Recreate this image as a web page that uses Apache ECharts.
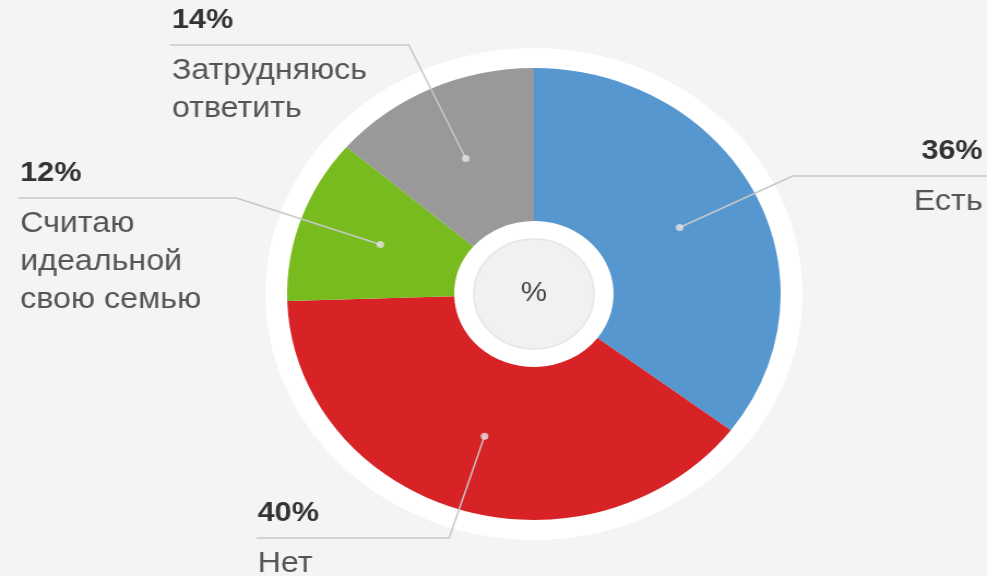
<!DOCTYPE html>
<html>
<head>
<meta charset="utf-8">
<script src="https://cdn.jsdelivr.net/npm/echarts@6/dist/echarts.min.js"></script>
<style>
html,body{margin:0;padding:0;background:#f4f4f4;overflow:hidden;width:987px;height:576px;}
#main{width:904px;height:576px;transform:scaleX(1.0918);transform-origin:0 0;}
</style>
</head>
<body>
<div id="main"></div>
<script>
// ---- data ----
var categories = ['Есть', 'Нет', 'Считаю\nидеальной\nсвою семью', 'Затрудняюсь\nответить'];
var values = [36, 40, 12, 14];
var colors = ['#5697cf', '#d72226', '#78bb1e', '#999999'];
var centerLabel = '%';

// ---- layout (chart pixel coords, before horizontal scale) ----
var CX = 489, CY = 294, R_OUT = 226, R_IN = 73;
var labelPos = [
  {lineY: 176, endX: 904, textX: 900, side: 'right'},
  {lineY: 538, endX: 235, textX: 236, side: 'left'},
  {lineY: 198, endX: 16.5, textX: 18.5, side: 'left'},
  {lineY: 45, endX: 155.5, textX: 157.5, side: 'left'}
];

var total = values.reduce(function (a, b) { return a + b; }, 0);
var dotData = [];
var cum = 0;
values.forEach(function (v) { dotData.push([0.66, cum + v / 2]); cum += v; });

var chart = echarts.init(document.getElementById('main'), null, {renderer: 'canvas'});
var font = '"Liberation Sans", Arial, sans-serif';

var option = {
  backgroundColor: '#f4f4f4',
  animation: false,
  polar: {center: [CX, CY], radius: R_OUT},
  angleAxis: {type: 'value', min: 0, max: total, startAngle: 90, clockwise: true, show: false},
  radiusAxis: {type: 'value', min: 0, max: 1, show: false},
  series: [
    {
      type: 'pie', z: 1, silent: true, center: [CX, CY], radius: [0, 246],
      label: {show: false}, labelLine: {show: false},
      data: [{value: 1, itemStyle: {color: '#ffffff'}}]
    },
    {
      type: 'pie', z: 2, silent: true, center: [CX, CY], radius: [R_IN, R_OUT],
      startAngle: 90, clockwise: true, avoidLabelOverlap: false,
      label: {show: false}, labelLine: {show: false},
      data: values.map(function (v, i) {
        return {value: v, name: categories[i], itemStyle: {color: colors[i]}};
      })
    },
    {
      type: 'pie', z: 3, silent: true, center: [CX, CY], radius: [0, R_OUT * 0.66],
      startAngle: 90, clockwise: true, avoidLabelOverlap: false,
      itemStyle: {color: 'rgba(0,0,0,0)'},
      label: {
        show: true, position: 'outside',
        fontFamily: font,
        formatter: function (p) {
          return '{p|' + values[p.dataIndex] + '%}\n{s| }\n{t|' + categories[p.dataIndex] + '}';
        },
        rich: {
          p: {fontSize: 28, fontWeight: 'bold', color: '#333333', lineHeight: 50, fontFamily: font},
          s: {fontSize: 1, lineHeight: 7},
          t: {fontSize: 29.5, color: '#555555', lineHeight: 38, fontFamily: font}
        }
      },
      labelLine: {show: true, length: 20, length2: 10, smooth: false,
        lineStyle: {color: '#c8c8c8', width: 1.5}},
      labelLayout: function (params) {
        var cfg = labelPos[params.dataIndex];
        var pts = params.labelLinePoints;
        var p0 = pts[0], p1 = pts[1];
        var dx = p1[0] - p0[0], dy = p1[1] - p0[1];
        var t = (cfg.lineY - p0[1]) / dy;
        var bend = [p0[0] + dx * t, cfg.lineY];
        return {
          x: cfg.textX,
          y: cfg.lineY - 50,
          align: cfg.side,
          verticalAlign: 'top',
          labelLinePoints: [p0, bend, [cfg.endX, cfg.lineY]]
        };
      },
      data: values.map(function (v, i) { return {value: v, name: categories[i]}; })
    },
    {
      type: 'pie', z: 4, silent: true, center: [CX, CY], radius: [0, 55],
      labelLine: {show: false},
      label: {show: true, position: 'center', formatter: centerLabel,
        fontSize: 27, color: '#444444', fontFamily: font},
      data: [{value: 1, itemStyle: {color: '#f1f1f1', borderColor: '#e6e6e6', borderWidth: 1.5}}]
    },
    {
      type: 'scatter', coordinateSystem: 'polar', z: 10, silent: true,
      symbolSize: 7, itemStyle: {color: '#e4e4e4'},
      data: dotData
    }
  ]
};
chart.setOption(option);
</script>
</body>
</html>
